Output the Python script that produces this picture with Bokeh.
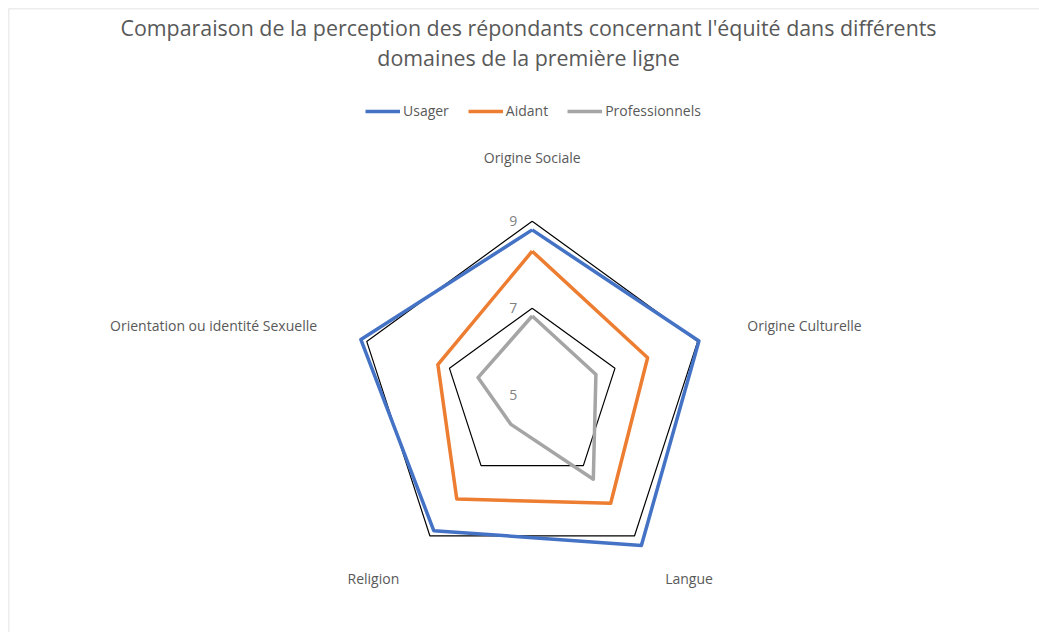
import math
from bokeh.plotting import figure
from bokeh.models import Range1d, Label, Legend, LegendItem, ColumnDataSource, Span
from bokeh.core.properties import value
from bokeh.embed import file_html
from bokeh.resources import INLINE

# ---------------- data ----------------
categories = ["Origine Sociale", "Origine Culturelle", "Langue", "Religion",
              "Orientation ou identité Sexuelle"]
usager = [8.80, 9.03, 9.27, 8.85, 9.14]
aidant = [8.31, 7.79, 8.07, 7.95, 7.28]
professionnels = [6.82, 6.54, 7.39, 5.83, 6.31]
series_names = ["Usager", "Aidant", "Professionnels"]
ticks = [5, 7, 9]
title_lines = ["Comparaison de la perception des répondants concernant l'équité dans différents",
               "domaines de la première ligne"]

# ---------------- style ----------------
colors = ["#4472C4", "#ED7D31", "#A5A5A5"]
FONT = "Open Sans"
TXT = "#595959"
W, H = 1039, 632
PAD = 8
FW, FH = W - PAD, H - PAD   # frame size
SCALE = 43.5            # px per unit
CX, CY = 523.7, 386.7   # centre in frame px (from top-left)
r_min = ticks[0]

n = len(categories)
angles = [math.pi / 2 - 2 * math.pi * k / n for k in range(n)]


def polar(vals):
    xs = [(v - r_min) * math.cos(a) for v, a in zip(vals, angles)]
    ys = [(v - r_min) * math.sin(a) for v, a in zip(vals, angles)]
    return xs + xs[:1], ys + ys[:1]


xr = Range1d(-CX / SCALE, (FW - CX) / SCALE)
yr = Range1d(-(FH - CY) / SCALE, CY / SCALE)
p = figure(width=W, height=H, output_backend="svg", toolbar_location=None,
           x_range=xr, y_range=yr,
           min_border_left=PAD, min_border_top=PAD,
           min_border_right=0, min_border_bottom=0)
p.axis.visible = False
p.grid.visible = False
p.outline_line_color = None
p.background_fill_color = "white"
p.border_fill_color = "white"

# chart-area border (left and top edges visible in the window)
p.add_layout(Span(location=xr.start, dimension="height", line_color="#D9D9D9", line_width=1.5))
p.add_layout(Span(location=yr.end, dimension="width", line_color="#D9D9D9", line_width=1.5))

# grid rings
for t in ticks:
    if t > r_min:
        gx, gy = polar([t] * n)
        p.line(gx, gy, line_color="black", line_width=1.2)

# tick labels
p.text(x=[0] * len(ticks), y=[t - r_min for t in ticks], text=[str(t) for t in ticks],
       text_align="right", text_baseline="middle", x_offset=-15,
       text_font=value(FONT), text_font_size="14px", text_color="#7F7F7F")

# series
renderers = []
for vals, col in zip([usager, aidant, professionnels], colors):
    sx, sy = polar(vals)
    r = p.line(sx, sy, line_color=col, line_width=3.5, line_join="round")
    renderers.append(r)

# category labels
r_lab = 5.2
aligns = ["center", "left", "left", "right", "right"]
lx = [r_lab * math.cos(a) for a in angles]
ly = [r_lab * math.sin(a) for a in angles]
yoffs = [-11.7, 0, 0, 0, 0]
src = ColumnDataSource(dict(x=lx, y=ly, t=categories, a=aligns, yo=yoffs))
p.text(x="x", y="y", text="t", text_align="a", y_offset="yo", source=src,
       text_baseline="middle", text_font=value(FONT), text_font_size="14px",
       text_color=TXT)

# title
for i, line in enumerate(title_lines):
    p.add_layout(Label(x=520, y=FH - 19 - 30 * i, x_units="screen", y_units="screen",
                       text=line, text_align="center", text_baseline="middle",
                       text_font=FONT, text_font_size="21.4px", text_color=TXT))

# legend
legend = Legend(items=[LegendItem(label=nm, renderers=[r]) for nm, r in zip(series_names, renderers)],
                orientation="horizontal", location=(357, FH - 112),
                glyph_width=35, glyph_height=18, label_height=18, label_standoff=3,
                spacing=19, padding=0, margin=0, border_line_color=None,
                background_fill_alpha=0, label_text_font=FONT,
                label_text_font_size="14px", label_text_color=TXT)
p.add_layout(legend, "center")

open("out.html", "w").write(file_html(p, INLINE))
